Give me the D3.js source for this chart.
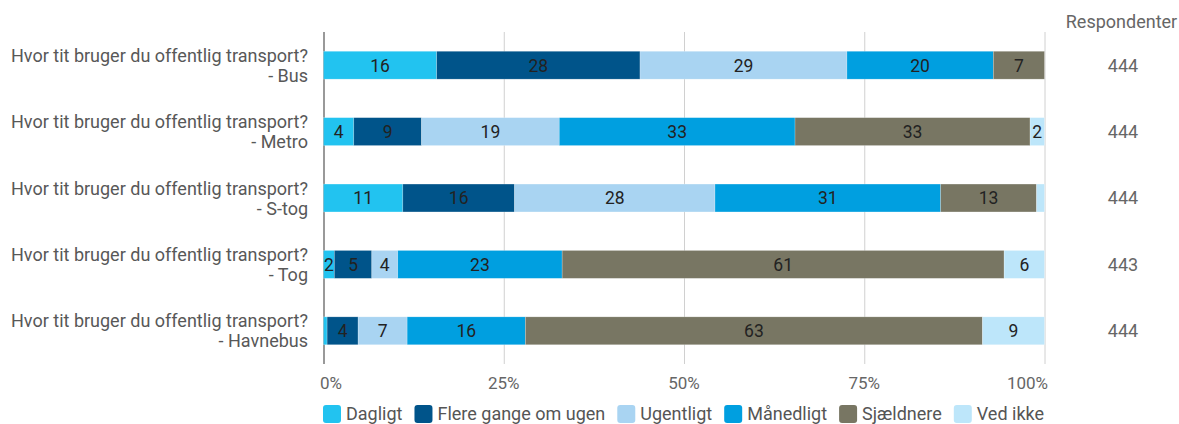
<!DOCTYPE html>
<html>
<head>
    <meta charset="utf-8">
    <script src="https://d3js.org/d3.v7.min.js"></script>
    <style>
        body {
            margin: 0;
            background: #fff;
            font-family: Roboto, 'Noto Sans', sans-serif;
        }
        .grid line { stroke: #d0d0d0; stroke-width: 1px; }
        .cat-label { fill: #585858; font-size: 18px; }
        .tick-label { fill: #666; font-size: 17px; }
        .bar-label { fill: #222; font-size: 17.5px; }
        .resp { fill: #666; font-size: 18px; }
        .legend-text { fill: #555; font-size: 18px; }
    </style>
</head>
<body>
<div id="chart"></div>
<script>
    const categories = ["Bus", "Metro", "S-tog", "Tog", "Havnebus"];
    const question = "Hvor tit bruger du offentlig transport?";
    const seriesNames = ["Dagligt", "Flere gange om ugen", "Ugentligt", "Månedligt", "Sjældnere", "Ved ikke"];
    const seriesColors = ["#22c3f0", "#00548a", "#a9d4f2", "#009fe0", "#787663", "#bde6fa"];

    // percentages per series, in category order
    const dagligt = [15.7, 4.2, 11.0, 1.5, 0.5];
    const flereGange = [28.2, 9.4, 15.5, 5.2, 4.3];
    const ugentligt = [28.7, 19.1, 27.8, 3.6, 6.8];
    const maanedligt = [20.3, 32.7, 31.3, 22.8, 16.4];
    const sjaeldnere = [7.1, 32.6, 13.3, 61.3, 63.4];
    const vedIkke = [0, 2.0, 1.1, 5.6, 8.6];
    const respondents = [444, 444, 444, 443, 444];
    const xTicks = [0, 25, 50, 75, 100];

    const seriesValues = [dagligt, flereGange, ugentligt, maanedligt, sjaeldnere, vedIkke];

    const width = 1179, height = 424;
    const margin = { top: 32, left: 323.5, right: 1044.5, bottom: 364 };

    const svg = d3.select("#chart").append("svg")
        .attr("width", width)
        .attr("height", height);

    const x = d3.scaleLinear().domain([0, 100]).range([margin.left, margin.right]);
    const y = d3.scaleBand().domain(categories).range([margin.top, margin.bottom]).paddingInner(0.58).paddingOuter(0.29);

    // gridlines
    svg.append("g").attr("class", "grid")
        .selectAll("line")
        .data(xTicks)
        .join("line")
        .attr("x1", d => x(d) + 0.5)
        .attr("x2", d => x(d) + 0.5)
        .attr("y1", margin.top)
        .attr("y2", margin.bottom)
        .style("stroke", d => d === 0 ? "#999" : null)
        .style("stroke-width", d => d === 0 ? 2 : null);

    // tick labels
    svg.append("g")
        .selectAll("text")
        .data(xTicks)
        .join("text")
        .attr("class", "tick-label")
        .attr("x", (d, i) => i === 0 ? x(d) - 3.5 : i === xTicks.length - 1 ? x(d) + 3.5 : x(d))
        .attr("y", 388.5)
        .attr("text-anchor", (d, i) => i === 0 ? "start" : i === xTicks.length - 1 ? "end" : "middle")
        .text(d => d + "%");

    // stacked data
    const rows = categories.map((c, i) => {
        const r = { cat: c };
        seriesNames.forEach((s, j) => r[s] = seriesValues[j][i]);
        return r;
    });
    const stacked = d3.stack().keys(seriesNames)(rows);

    const layers = svg.append("g")
        .selectAll("g")
        .data(stacked)
        .join("g")
        .attr("fill", (d, i) => seriesColors[i]);

    layers.selectAll("rect")
        .data(d => d)
        .join("rect")
        .attr("x", d => x(d[0]))
        .attr("y", d => y(d.data.cat))
        .attr("width", d => Math.max(0, x(d[1]) - x(d[0])))
        .attr("height", y.bandwidth())
        .attr("stroke", "#fff")
        .attr("stroke-opacity", 0.35)
        .attr("stroke-width", 0.6);

    layers.selectAll("text")
        .data(d => d.filter(v => x(v[1]) - x(v[0]) > 10))
        .join("text")
        .attr("class", "bar-label")
        .attr("x", d => (x(d[0]) + x(d[1])) / 2)
        .attr("y", d => y(d.data.cat) + y.bandwidth() / 2)
        .attr("dy", "0.36em")
        .attr("text-anchor", "middle")
        .text(d => Math.round(d[1] - d[0]));

    // category labels
    const catLabels = svg.append("g")
        .selectAll("text")
        .data(categories)
        .join("text")
        .attr("class", "cat-label")
        .attr("text-anchor", "end")
        .attr("x", 308)
        .attr("y", d => y(d) + y.bandwidth() / 2);
    catLabels.append("tspan").attr("x", 308).attr("dy", -3.5).text(question);
    catLabels.append("tspan").attr("x", 308).attr("dy", 20).text(d => "- " + d);

    // respondents column
    svg.append("text")
        .attr("class", "resp")
        .attr("x", 1121.5)
        .attr("y", 22)
        .attr("dy", "0.36em")
        .attr("text-anchor", "middle")
        .text("Respondenter");

    svg.append("g")
        .selectAll("text")
        .data(categories)
        .join("text")
        .attr("class", "resp")
        .attr("x", 1123)
        .attr("y", d => y(d) + y.bandwidth() / 2)
        .attr("dy", "0.36em")
        .attr("text-anchor", "middle")
        .text((d, i) => respondents[i]);

    // legend
    const legend = svg.append("g");
    let lx = 323;
    seriesNames.forEach((s, i) => {
        const g = legend.append("g").attr("transform", `translate(${lx},405)`);
        g.append("rect")
            .attr("width", 18).attr("height", 18)
            .attr("rx", 3)
            .attr("fill", seriesColors[i]);
        const t = g.append("text")
            .attr("class", "legend-text")
            .attr("x", 23)
            .attr("y", 9)
            .attr("dy", "0.36em")
            .text(s);
        lx += 23 + t.node().getComputedTextLength() + 12;
    });
</script>
</body>
</html>
